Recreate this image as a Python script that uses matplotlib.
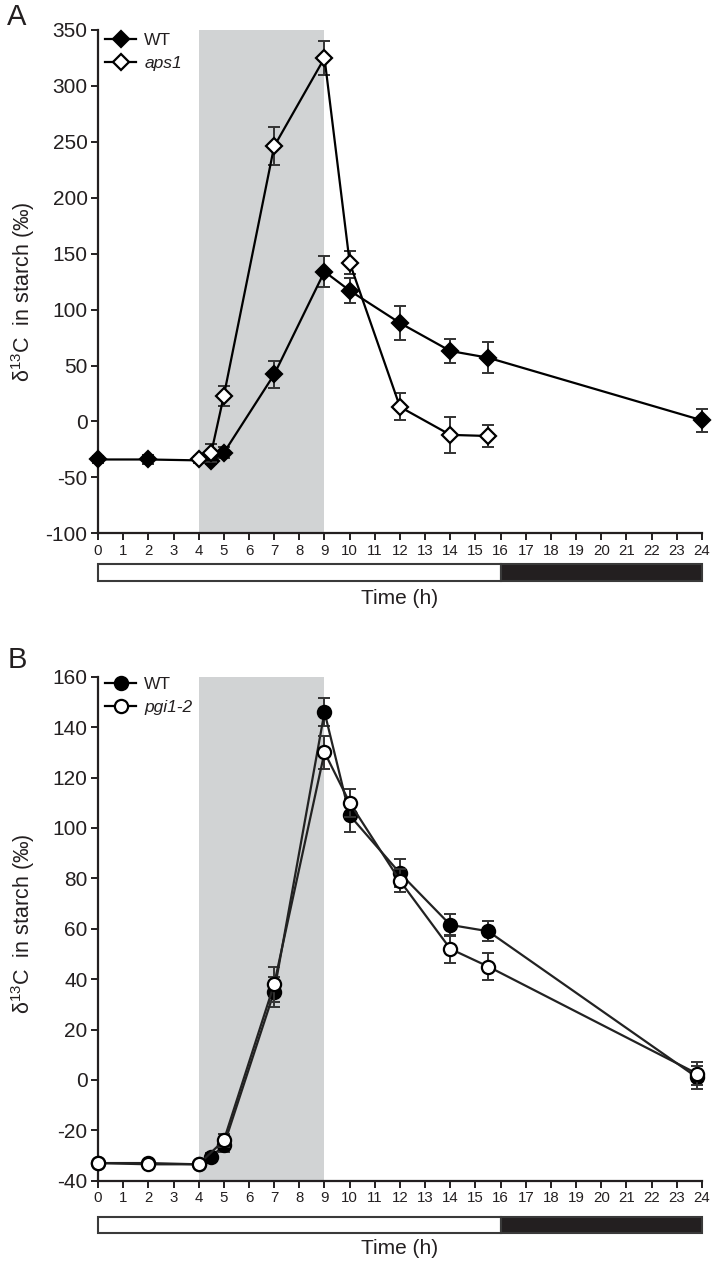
import matplotlib
matplotlib.use("Agg")
import matplotlib.pyplot as plt
from matplotlib.lines import Line2D

plt.rcParams['font.family'] = ['Liberation Sans', 'DejaVu Sans']
plt.rcParams['mathtext.default'] = 'regular'
plt.rcParams['axes.unicode_minus'] = False

# ---------------- data ----------------
hours = list(range(0, 25))
pulse_window = (4, 9)
phase_starts = [0, 16]
phase_lengths = [16, 8]
phase_colors = ['white', '#231f20']

A_wt_x = [0, 2, 4.5, 5, 7, 9, 10, 12, 14, 15.5, 24]
A_wt_y = [-34, -34, -35, -28, 42, 134, 117, 88, 63, 57, 1]
A_wt_err = [3, 4, 3, 5, 12, 14, 11, 15, 11, 14, 10]
A_aps1_x = [4, 4.5, 5, 7, 9, 10, 12, 14, 15.5]
A_aps1_y = [-34, -28, 23, 246, 325, 142, 13, -12, -13]
A_aps1_err = [3, 8, 9, 17, 15, 10, 12, 16, 10]
A_yticks = [-100, -50, 0, 50, 100, 150, 200, 250, 300, 350]

B_wt_x = [0, 2, 4, 4.5, 5, 7, 9, 10, 12, 14, 15.5, 23.8]
B_wt_y = [-33, -33, -33.5, -30.5, -26, 35, 146, 105, 82, 61.5, 59, 1]
B_wt_err = [1, 1, 1, 1.5, 2.5, 6, 5.5, 6.5, 5.5, 4.5, 4, 4.5]
B_pgi_x = [0, 2, 4, 5, 7, 9, 10, 12, 14, 15.5, 23.8]
B_pgi_y = [-33, -33.5, -33.5, -24, 38, 130, 110, 79, 52, 45, 2.5]
B_pgi_err = [1, 1, 1, 2.5, 7, 6.5, 5.5, 4.5, 5.5, 5.5, 4.5]
B_yticks = [-40, -20, 0, 20, 40, 60, 80, 100, 120, 140, 160]

W, H = 712, 1263
fig = plt.figure(figsize=(W / 100, H / 100), dpi=100)

AX_L = 98 / W
AX_W = 604 / W
ink = '#231f20'


def px_box(top, bottom):
    return [AX_L, 1 - bottom / H, AX_W, (bottom - top) / H]


def style_axes(ax, ylim, yticks, label_y):
    ax.set_xlim(0, 24)
    ax.set_ylim(*ylim)
    ax.set_xticks(hours)
    ax.set_yticks(yticks)
    for s in ['top', 'right']:
        ax.spines[s].set_visible(False)
    for s in ['left', 'bottom']:
        ax.spines[s].set_linewidth(1.6)
        ax.spines[s].set_color(ink)
    ax.tick_params(axis='both', direction='out', length=5, width=1.4, color=ink,
                   labelcolor=ink)
    ax.tick_params(axis='x', labelsize=10.8, pad=2.5)
    ax.tick_params(axis='y', labelsize=15, pad=2.5)
    ax.axvspan(*pulse_window, color='#d1d3d4', lw=0, zorder=0)
    ax.set_ylabel(r'δ$^{13}$C  in starch (‰)', fontsize=15.5, color=ink)
    ax.yaxis.set_label_coords(-0.101, label_y)


def series(ax, x, y, err, marker, ms, face, lc, z):
    ax.errorbar(x, y, yerr=err, fmt='none', ecolor='#333333',
                elinewidth=1.4, capsize=4.5, capthick=1.4, zorder=z, clip_on=False)
    ax.plot(x, y, '-', marker=marker, ms=ms, mfc=face, mec='black', mew=1.6,
            color=lc, lw=1.6, zorder=z + 0.5, clip_on=False)


def light_bar(top, bottom, label_y):
    bx = fig.add_axes(px_box(top, bottom))
    bx.barh([0, 0], phase_lengths, left=phase_starts, height=1,
            color=phase_colors, edgecolor='#3a3a3a', linewidth=1.5, clip_on=False)
    bx.set_xlim(0, 24)
    bx.set_ylim(-0.5, 0.5)
    bx.axis('off')
    fig.text(400 / W, 1 - label_y / H, 'Time (h)', ha='center', va='center',
             fontsize=15, color=ink)


def legend(ax, labels, marker, ms, top_frac):
    handles = [Line2D([], [], color='black', lw=1.6, marker=marker, ms=ms,
                      mfc=fc, mec='black', mew=1.6) for fc in ['black', 'white']]
    leg = ax.legend(handles, labels, loc='upper left', bbox_to_anchor=(0.012, top_frac),
                    frameon=False, fontsize=12.5, borderpad=0, borderaxespad=0,
                    handlelength=1.8, handletextpad=0.45, labelspacing=0.45)
    leg.get_texts()[1].set_fontstyle('italic')
    for t in leg.get_texts():
        t.set_color(ink)


# ---------------- panel A ----------------
axA = fig.add_axes(px_box(30, 533.3))
style_axes(axA, (-100, 350), A_yticks, 0.48)
series(axA, A_wt_x, A_wt_y, A_wt_err, 'D', 8.5, 'black', 'black', 3)
series(axA, A_aps1_x, A_aps1_y, A_aps1_err, 'D', 8.5, 'white', 'black', 4)
legend(axA, ['WT', 'aps1'], 'D', 8.5, 0.995)
light_bar(564, 580.7, 599)
fig.text(17 / W, 1 - 17 / H, 'A', fontsize=21, ha='center', va='center', color=ink)

# ---------------- panel B ----------------
axB = fig.add_axes(px_box(676.7, 1180.7))
style_axes(axB, (-40, 160), B_yticks, 0.51)
series(axB, B_wt_x, B_wt_y, B_wt_err, 'o', 9.5, 'black', '#222222', 3)
series(axB, B_pgi_x, B_pgi_y, B_pgi_err, 'o', 9.5, 'white', '#222222', 4)
legend(axB, ['WT', 'pgi1-2'], 'o', 9.5, 1.0)
light_bar(1216.7, 1233.3, 1249)
fig.text(17 / W, 1 - 660 / H, 'B', fontsize=21, ha='center', va='center', color=ink)

fig.savefig('out.png', dpi=100)
